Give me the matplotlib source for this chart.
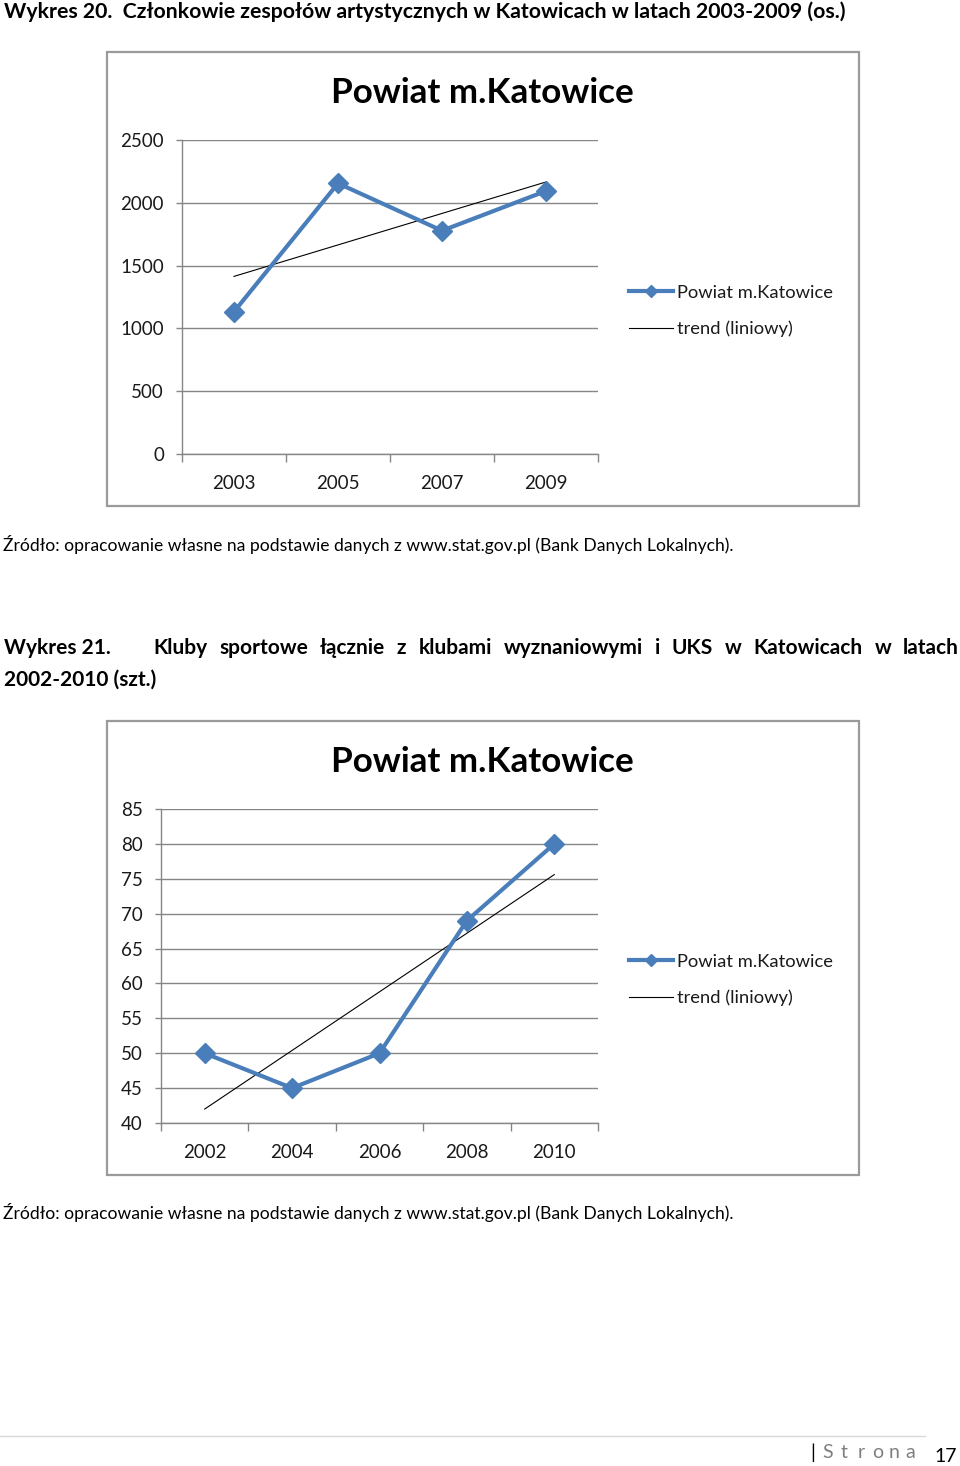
import numpy as np
import matplotlib
matplotlib.use("Agg")
import matplotlib.pyplot as plt
from matplotlib.patches import Rectangle
from matplotlib.lines import Line2D

# ---------------- data ----------------
years1 = ["2003", "2005", "2007", "2009"]
members1 = [1133, 2155, 1778, 2094]
yticks1 = [0, 500, 1000, 1500, 2000, 2500]

years2 = ["2002", "2004", "2006", "2008", "2010"]
clubs2 = [50, 45, 50, 69, 80]
yticks2 = [40, 45, 50, 55, 60, 65, 70, 75, 80, 85]

chart_title = "Powiat m.Katowice"
series_name = "Powiat m.Katowice"
trend_name = "trend (liniowy)"
header1 = "Wykres 20.  Członkowie zespołów artystycznych w Katowicach w latach 2003-2009 (os.)"
header2_words = ["Wykres 21.", "Kluby", "sportowe", "łącznie", "z", "klubami", "wyznaniowymi",
                 "i", "UKS", "w", "Katowicach", "w", "latach"]
header2_line2 = "2002-2010 (szt.)"
source = "Źródło: opracowanie własne na podstawie danych z www.stat.gov.pl (Bank Danych Lokalnych)."
footer_word = "Strona"
page_no = "17"

# ---------------- layout ----------------
W, H = 960, 1466
fig = plt.figure(figsize=(W / 100, H / 100), dpi=100)
fig.patch.set_facecolor("white")
FONT = ["Lato", "DejaVu Sans"]
plt.rcParams["font.family"] = FONT

bg = fig.add_axes([0, 0, 1, 1], zorder=0)
bg.set_xlim(0, W)
bg.set_ylim(H, 0)
bg.axis("off")

def px_axes(x0, y0, x1, y1, z=2):
    return fig.add_axes([x0 / W, 1 - y1 / H, (x1 - x0) / W, (y1 - y0) / H], zorder=z)

BLUE = "#4a7ebb"
GRID = "#868686"
TXT = "#1a1a1a"
HFS = 15.0

def draw_chart(box, plot, cats, vals, yticks, legend_y):
    bx0, by0, bx1, by1 = box
    bg.add_patch(Rectangle((bx0, by0), bx1 - bx0, by1 - by0, fill=False,
                           edgecolor="#9a9a9a", lw=1.6, zorder=1))
    bg.text(482, by0 + 41, chart_title, ha="center", va="center",
            fontsize=25.2, fontweight="bold", color="black", family=FONT)
    ax = px_axes(*plot)
    ax.set_facecolor("none")
    n = len(cats)
    x = np.arange(1, n + 1)
    ax.set_xlim(0.5, n + 0.5)
    ax.set_ylim(yticks[0], yticks[-1])
    ax.set_yticks(yticks)
    ax.set_yticklabels([str(v) for v in yticks], fontsize=13.5, color=TXT)
    ax.set_xticks(x)
    ax.set_xticklabels(cats, fontsize=13.5, color=TXT)
    ax.set_xticks(np.arange(0.5, n + 1, 1), minor=True)
    ax.tick_params(axis="x", which="major", length=0, pad=15)
    ax.tick_params(axis="x", which="minor", length=6, color=GRID, width=1)
    ax.tick_params(axis="y", length=4.5, color=GRID, width=1, pad=8.5)
    ax.grid(axis="y", color=GRID, lw=1)
    ax.set_axisbelow(True)
    for s in ("top", "right"):
        ax.spines[s].set_visible(False)
    for s in ("left", "bottom"):
        ax.spines[s].set_color(GRID)
        ax.spines[s].set_linewidth(1)
    l1, = ax.plot(x, vals, color=BLUE, lw=3, marker="D", ms=10.5,
                  markeredgecolor=BLUE, zorder=4, clip_on=False, label=series_name)
    k, b = np.polyfit(x, vals, 1)
    l2, = ax.plot(x, k * x + b, color="black", lw=0.8, zorder=3, label=trend_name)
    leg = fig.legend(handles=[l1, l2], loc="center left",
                     bbox_to_anchor=(622 / W, 1 - legend_y / H),
                     frameon=False, fontsize=13.2, handlelength=2.4, handletextpad=0.2,
                     labelspacing=1.1, borderaxespad=0, markerscale=0.6)
    for t in leg.get_texts():
        t.set_color(TXT)
    return ax

draw_chart((107, 52, 859, 506), (182, 140, 598, 454), years1, members1, yticks1, 311)
draw_chart((107, 721, 859, 1175), (161, 809, 598, 1123), years2, clubs2, yticks2, 980)

# ---------------- page texts ----------------
bg.text(4, 12, header1, ha="left", va="center", fontsize=HFS * 1.018, fontweight="bold",
        color="black", family=FONT)
bg.text(3, 544, source, ha="left", va="center", fontsize=12.6, color="black", family=FONT)
bg.text(3, 1213, source, ha="left", va="center", fontsize=12.6, color="black", family=FONT)

# justified line of header 2
fig.canvas.draw()
renderer = fig.canvas.get_renderer()
tmp = [bg.text(0, 0, w, fontsize=HFS, fontweight="bold", family=FONT) for w in header2_words]
widths = [t.get_window_extent(renderer).width for t in tmp]
for t in tmp:
    t.remove()
x_first_word2 = 153
bg.text(4, 648, header2_words[0], ha="left", va="center", fontsize=HFS,
        fontweight="bold", color="black", family=FONT)
rest = header2_words[1:]
rw = widths[1:]
gap = (959 - x_first_word2 - sum(rw)) / (len(rest) - 1)
xc = x_first_word2
for w, wd in zip(rest, rw):
    bg.text(xc, 648, w, ha="left", va="center", fontsize=HFS, fontweight="bold",
            color="black", family=FONT)
    xc += wd + gap
bg.text(4, 680, header2_line2, ha="left", va="center", fontsize=HFS, fontweight="bold",
        color="black", family=FONT)

# footer
bg.add_line(Line2D([0, 925], [1436, 1436], color="#d9d9d9", lw=1))
bg.text(810, 1453, "|", ha="left", va="center", fontsize=14, color="black", family=FONT)
for i, ch in enumerate(footer_word):
    bg.text(828 + i * 16.5, 1453, ch, ha="center", va="center", fontsize=14,
            color="#7f7f7f", family=FONT)
bg.text(934, 1456, page_no, ha="left", va="center", fontsize=14, color="black", family=FONT)

fig.savefig("out.png", dpi=100, facecolor="white")
